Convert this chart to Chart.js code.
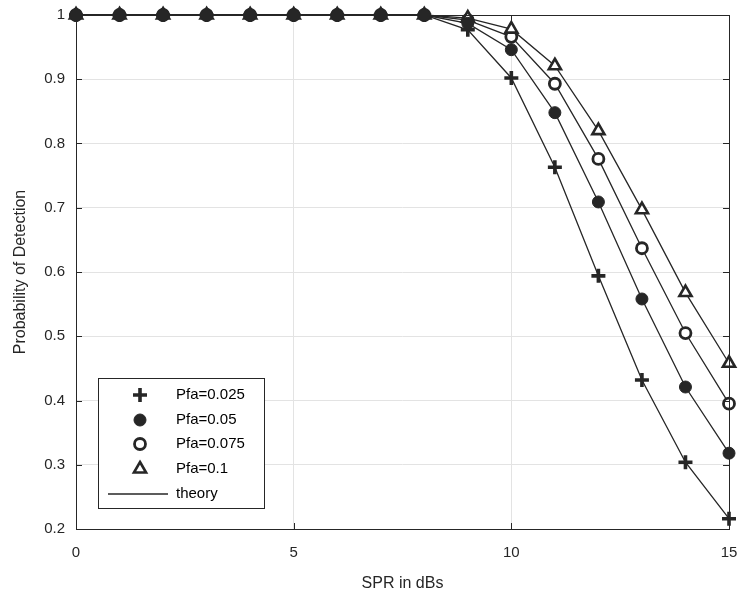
<!DOCTYPE html>
<html>
<head>
<meta charset="utf-8">
<script src="https://cdn.jsdelivr.net/npm/chart.js@4.4.1/dist/chart.umd.min.js"></script>
<style>
  html, body { margin: 0; padding: 0; background: #fff; }
  #wrap { width: 744px; height: 596px; }
</style>
</head>
<body>
<div id="wrap"><canvas id="pdChart" width="744" height="596"></canvas></div>
<script>
// SPR values (dB)
var spr = [0, 1, 2, 3, 4, 5, 6, 7, 8, 9, 10, 11, 12, 13, 14, 15]

// probability of detection per Pfa
var pfa025 = [1, 1, 1, 1, 1, 1, 1, 1, 1, 0.977, 0.902, 0.763, 0.594, 0.432, 0.304, 0.216]
var pfa05  = [1, 1, 1, 1, 1, 1, 1, 1, 1, 0.987, 0.946, 0.848, 0.709, 0.558, 0.421, 0.318]
var pfa075 = [1, 1, 1, 1, 1, 1, 1, 1, 1, 0.992, 0.966, 0.893, 0.776, 0.637, 0.505, 0.395]
var pfa1   = [1, 1, 1, 1, 1, 1, 1, 1, 1, 0.995, 0.978, 0.921, 0.820, 0.697, 0.568, 0.458]

var labels = ['Pfa=0.025', 'Pfa=0.05', 'Pfa=0.075', 'Pfa=0.1', 'theory']

var xTicks = [0, 5, 10, 15]
var yTicks = [0.2, 0.3, 0.4, 0.5, 0.6, 0.7, 0.8, 0.9, 1]

var ink = '#262626'

function toXY(vals) {
  return vals.map(function (v, i) { return { x: spr[i], y: v } })
}

var markers = [
  { pointStyle: 'cross', radius: 7, borderWidth: 3.6, fill: ink },
  { pointStyle: 'circle', radius: 6, borderWidth: 1, fill: ink },
  { pointStyle: 'circle', radius: 5.5, borderWidth: 2.8, fill: '#fff' },
  { pointStyle: 'triangle', radius: 7, borderWidth: 2.6, fill: '#fff' }
]

var series = [pfa025, pfa05, pfa075, pfa1]
var datasets = []

// theory lines
series.forEach(function (s, i) {
  datasets.push({
    label: 'theory',
    data: toXY(s),
    showLine: true,
    borderColor: ink,
    borderWidth: 1.3,
    pointRadius: 0,
    fill: false,
    clip: false,
    order: 10
  })
})

// markers
series.forEach(function (s, i) {
  var m = markers[i]
  datasets.push({
    label: labels[i],
    data: toXY(s),
    showLine: false,
    pointStyle: m.pointStyle,
    pointRadius: m.radius,
    pointBorderWidth: m.borderWidth,
    pointBorderColor: ink,
    pointBackgroundColor: m.fill,
    clip: false,
    order: i === 1 ? 0 : 4 - i
  })
})

// legend box inside plot + box border + inward ticks
var matlabLook = {
  id: 'matlabLook',
  afterDraw: function (chart) {
    var ctx = chart.ctx
    var a = chart.chartArea
    var xs = chart.scales.x, ys = chart.scales.y
    ctx.save()
    ctx.strokeStyle = ink
    ctx.lineWidth = 1
    // inward ticks
    xTicks.forEach(function (t) {
      var px = Math.round(xs.getPixelForValue(t)) + 0.5
      ctx.beginPath()
      ctx.moveTo(px, a.bottom); ctx.lineTo(px, a.bottom - 6)
      ctx.moveTo(px, a.top); ctx.lineTo(px, a.top + 6)
      ctx.stroke()
    })
    yTicks.forEach(function (t) {
      var py = Math.round(ys.getPixelForValue(t)) + 0.5
      ctx.beginPath()
      ctx.moveTo(a.left, py); ctx.lineTo(a.left + 6, py)
      ctx.moveTo(a.right, py); ctx.lineTo(a.right - 6, py)
      ctx.stroke()
    })
    ctx.strokeRect(Math.round(a.left) + 0.5, Math.round(a.top) + 0.5, Math.round(a.right - a.left), Math.round(a.bottom - a.top))

    // legend
    var bx = 98.5, by = 378.5, bw = 166, bh = 130
    ctx.fillStyle = '#fff'
    ctx.fillRect(bx, by, bw, bh)
    ctx.strokeRect(bx, by, bw, bh)
    ctx.font = '15px "Liberation Sans", Arial, sans-serif'
    ctx.textBaseline = 'middle'
    var rowY = [395, 420, 444, 469, 494]
    for (var i = 0; i < 4; i++) {
      var m = markers[i]
      ctx.fillStyle = m.fill
      ctx.strokeStyle = ink
      ctx.lineWidth = m.borderWidth
      Chart.helpers.drawPoint(ctx, { pointStyle: m.pointStyle, radius: m.radius, borderWidth: m.borderWidth, rotation: 0 }, 140, rowY[i])
      ctx.fillStyle = '#000'
      ctx.fillText(labels[i], 176, rowY[i])
    }
    ctx.strokeStyle = ink
    ctx.lineWidth = 1.3
    ctx.beginPath()
    ctx.moveTo(108, rowY[4]); ctx.lineTo(168, rowY[4])
    ctx.stroke()
    ctx.fillStyle = '#000'
    ctx.fillText(labels[4], 176, rowY[4])
    ctx.restore()
  }
}

var font = '"Liberation Sans", Arial, sans-serif'

new Chart(document.getElementById('pdChart').getContext('2d'), {
  type: 'scatter',
  data: { datasets: datasets },
  options: {
    responsive: false,
    animation: false,
    layout: { padding: { top: 15, right: 15, left: 0, bottom: 0 } },
    plugins: { legend: { display: false }, tooltip: { enabled: false } },
    scales: {
      x: {
        type: 'linear', min: 0, max: 15,
        afterBuildTicks: function (s) { s.ticks = xTicks.map(function (v) { return { value: v } }) },
        afterFit: function (s) { s.height = 67; s.paddingLeft = 0; s.paddingRight = 0 },
        grid: { color: '#e3e3e3', drawTicks: false },
        border: { display: false },
        ticks: { color: ink, font: { family: font, size: 15 }, padding: 15 },
        title: { display: true, text: 'SPR in dBs', color: ink, font: { family: font, size: 16 }, padding: { top: 0, bottom: 3 } }
      },
      y: {
        type: 'linear', min: 0.2, max: 1,
        afterBuildTicks: function (s) { s.ticks = yTicks.map(function (v) { return { value: v } }) },
        afterFit: function (s) { s.width = 76; s.paddingTop = 0; s.paddingBottom = 0 },
        grid: { color: '#e3e3e3', drawTicks: false },
        border: { display: false },
        ticks: { color: ink, font: { family: font, size: 15 }, padding: 11,
          callback: function (v) { return String(Math.round(v * 10) / 10) } },
        title: { display: true, text: 'Probability of Detection', color: ink, font: { family: font, size: 16 }, padding: { top: 11, bottom: 0 } }
      }
    }
  },
  plugins: [matlabLook]
})
</script>
</body>
</html>
